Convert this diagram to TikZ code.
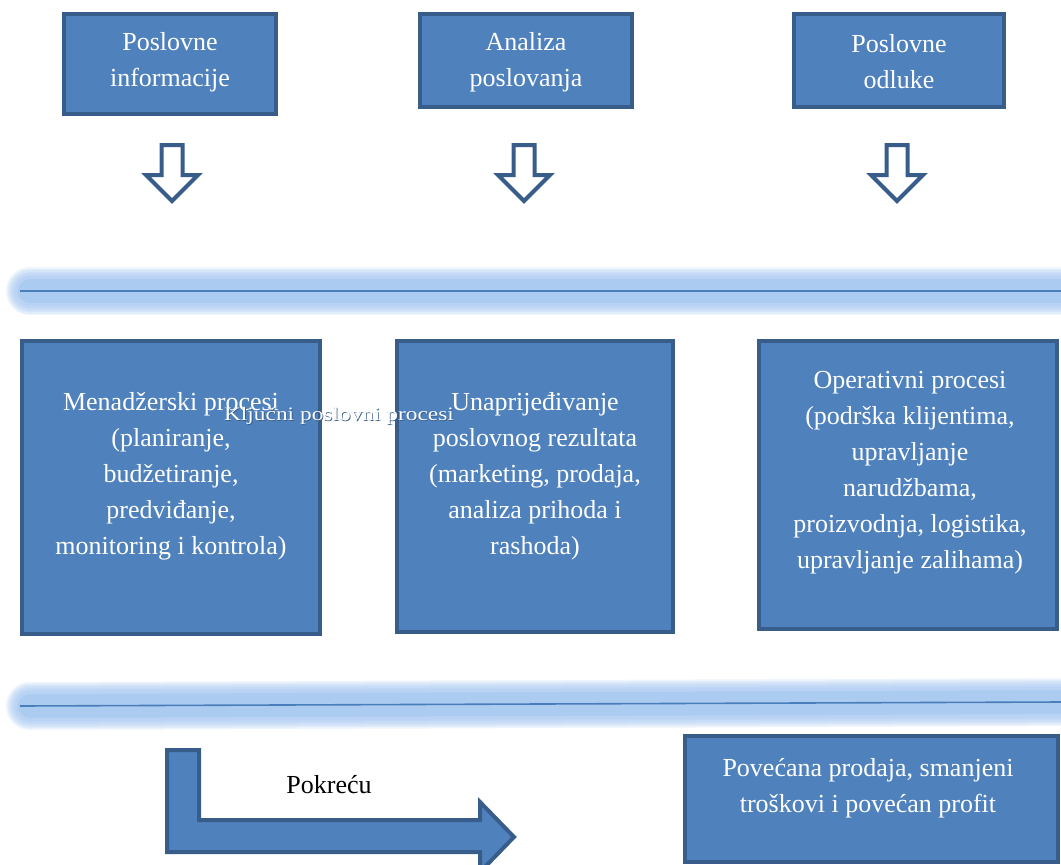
\documentclass[tikz,border=0pt]{standalone}
\usepackage{fontspec}
\setmainfont{Liberation Serif}
\definecolor{boxfill}{HTML}{4F81BD}
\definecolor{boxline}{HTML}{385D8A}
\definecolor{glow}{HTML}{A3C5F0}
\definecolor{coreline}{HTML}{4A7EBB}
\begin{document}
\begin{tikzpicture}[x=1pt,y=-1pt,
  bluebox/.style={draw=boxline,fill=boxfill,line width=4pt,inner sep=0pt,rectangle},
  boxtext/.style={text=white,align=center,font=\fontsize{26}{36}\selectfont,inner sep=0pt},
  hollowarrow/.style={draw=boxline,fill=white,line width=4pt,line join=miter},
  bentarrow/.style={draw=boxline,fill=boxfill,line width=4pt,line join=miter},
  glowline/.style={glow,line cap=round},
  core/.style={coreline,line width=1.6pt}
]
\useasboundingbox (0,0) rectangle (1061,865);
\clip (0,0) rectangle (1061,865);

% glow separators
\foreach \yy/\yz in {291/291, 706/702}{
  \foreach \w in {48,45,42,39,36,33,30}{
    \draw[glowline,line width=\w pt,opacity=0.18] (30,\yy) -- (1090,\yz);
  }
  \draw[glowline,line width=24pt,opacity=0.6] (30,\yy) -- (1090,\yz);
}
\coordinate (l1a) at (20,291);
\coordinate (l1b) at (1061,291);
\coordinate (l2a) at (20,706);
\coordinate (l2b) at (1061,702);
\draw[core] (l1a) -- (l1b);
\draw[core] (l2a) -- (l2b);

% top boxes
\node[bluebox,minimum width=212pt,minimum height=100pt] (b1) at (170,64) {};
\node[bluebox,minimum width=212pt,minimum height=93pt] (b2) at (526,60.5) {};
\node[bluebox,minimum width=210pt,minimum height=93pt] (b3) at (899,60.5) {};
\node[boxtext] (t1) at (170,62) {Poslovne\\informacije};
\node[boxtext] (t2) at (526,62) {Analiza\\poslovanja};
\node[boxtext] (t3) at (899,62) {Poslovne\\odluke};

% hollow down arrows
\foreach \cx in {172,524,897}{
  \draw[hollowarrow] (\cx-10.5,145) -- (\cx+10.5,145) -- (\cx+10.5,175) -- (\cx+26,175)
    -- (\cx,201) -- (\cx-26,175) -- (\cx-10.5,175) -- cycle;
}

% middle boxes
\node[bluebox,minimum width=298pt,minimum height=293pt] (b4) at (171,487.5) {};
\node[bluebox,minimum width=276pt,minimum height=291pt] (b5) at (535,486.5) {};
\node[bluebox,minimum width=298pt,minimum height=288pt] (b6) at (908,485) {};
\node[boxtext] (t4) at (171,476) {Menadžerski procesi\\(planiranje,\\budžetiranje,\\predviđanje,\\monitoring i kontrola)};
\node[boxtext] (t5) at (535,476) {Unaprijeđivanje\\poslovnog rezultata\\(marketing, prodaja,\\analiza prihoda i\\rashoda)};
\node[boxtext] (t6) at (910,473) {Operativni procesi\\(podrška klijentima,\\upravljanje\\narudžbama,\\proizvodnja, logistika,\\upravljanje zalihama)};

% overlay label
\node[text=boxline,font=\fontsize{19}{21}\selectfont,inner sep=0pt] (kpb) at (339.8,416.8) {\scalebox{1.23}[1]{Ključni poslovni procesi}};
\node[text=white,font=\fontsize{19}{21}\selectfont,inner sep=0pt] (kp) at (339,416) {\scalebox{1.23}[1]{Ključni poslovni procesi}};

% bent arrow
\draw[bentarrow] (167,750) -- (199,750) -- (199,820) -- (480,820) -- (480,802) -- (514,837)
  -- (480,872) -- (480,852) -- (167,852) -- cycle;
\node[font=\fontsize{26}{36}\selectfont,inner sep=0pt] (pk) at (329,785) {Pokreću};

% result box
\node[bluebox,minimum width=373pt,minimum height=126pt] (b7) at (871.5,799) {};
\node[boxtext] (t7) at (868,788) {Povećana prodaja, smanjeni\\troškovi i povećan profit};
\end{tikzpicture}
\end{document}
